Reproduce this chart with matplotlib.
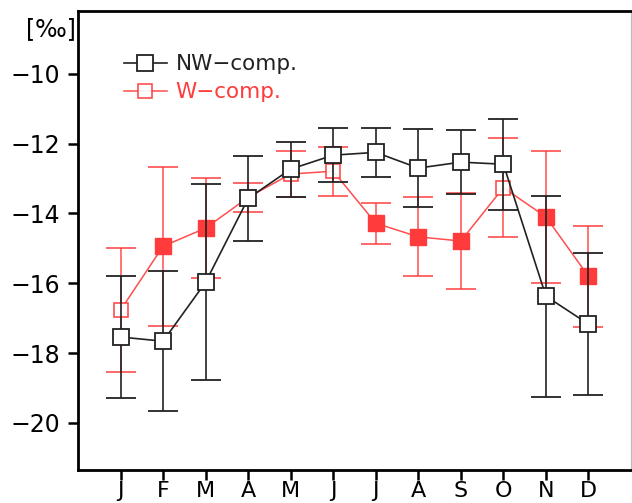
import matplotlib
matplotlib.use("Agg")
import matplotlib.pyplot as plt
from matplotlib.lines import Line2D
import numpy as np

months = ["J", "F", "M", "A", "M", "J", "J", "A", "S", "O", "N", "D"]
nw_mean = [-17.54, -17.66, -15.97, -13.57, -12.73, -12.33, -12.25, -12.70, -12.53, -12.59, -16.37, -17.17]
nw_err = [1.76, 2.00, 2.81, 1.22, 0.79, 0.77, 0.71, 1.11, 0.92, 1.30, 2.88, 2.03]
w_mean = [-16.77, -14.94, -14.42, -13.54, -12.87, -12.79, -14.28, -14.67, -14.79, -13.26, -14.10, -15.80]
w_err = [1.77, 2.28, 1.44, 0.42, 0.66, 0.70, 0.59, 1.13, 1.38, 1.41, 1.90, 1.44]
w_filled = [False, True, True, False, False, False, True, True, True, False, True, True]
yticks = [-10, -12, -14, -16, -18, -20]

BLACK = "#222222"
RED = "#ff3b3b"

fig = plt.figure(figsize=(6.32, 5.03), dpi=100)
ax = fig.add_axes([78/632, 33/503, (631-78)/632, (470-11)/503])
x = np.arange(1, 13)

ax.errorbar(x, w_mean, yerr=w_err, color=RED, lw=1.1, elinewidth=1.1, capsize=11, capthick=1.1,
            marker="s", ms=10, mfc="white", mec=RED, mew=1.2, zorder=2, alpha=0.9)
wf = np.array(w_filled)
ax.plot(x[wf], np.array(w_mean)[wf], "s", ms=11, color=RED, mec=RED, zorder=3, ls="none")

ax.errorbar(x, nw_mean, yerr=nw_err, color=BLACK, lw=1.2, elinewidth=1.2, capsize=11, capthick=1.2,
            marker="s", ms=11, mfc="white", mec=BLACK, mew=1.3, zorder=4)

ax.set_xlim(0, 13)
ax.set_ylim(-21.35, -8.2)
ax.set_xticks(x)
ax.set_xticklabels(months)
ax.set_yticks(yticks)
ax.set_yticklabels(["\u2212%d" % abs(v) for v in yticks])
ax.tick_params(axis="both", direction="out", length=7, width=1.8, labelsize=17)
ax.tick_params(axis="x", pad=1, labelsize=16)
ax.tick_params(axis="y", pad=6)
for s in ["left", "bottom", "top"]:
    ax.spines[s].set_linewidth(2)
ax.spines["right"].set_linewidth(0.8)
ax.spines["right"].set_color("#bbbbbb")

handles = [
    Line2D([], [], color=BLACK, lw=1.2, marker="s", ms=11, mfc="white", mec=BLACK, mew=1.3),
    Line2D([], [], color=RED, lw=1.1, marker="s", ms=10, mfc="white", mec=RED, mew=1.2, alpha=0.9),
]
leg = ax.legend(handles, ["NW\u2212comp.", "W\u2212comp."], loc="upper left",
                bbox_to_anchor=(0.048, 0.948), frameon=False,
                fontsize=15.5, handlelength=2.0, handletextpad=0.4, labelspacing=0.38)
for t, c in zip(leg.get_texts(), [BLACK, RED]):
    t.set_color(c)

fig.text(51/632, 1 - 29/503, "[\u2030]", fontsize=17, ha="center", va="center")

fig.savefig("out.png", dpi=100)
